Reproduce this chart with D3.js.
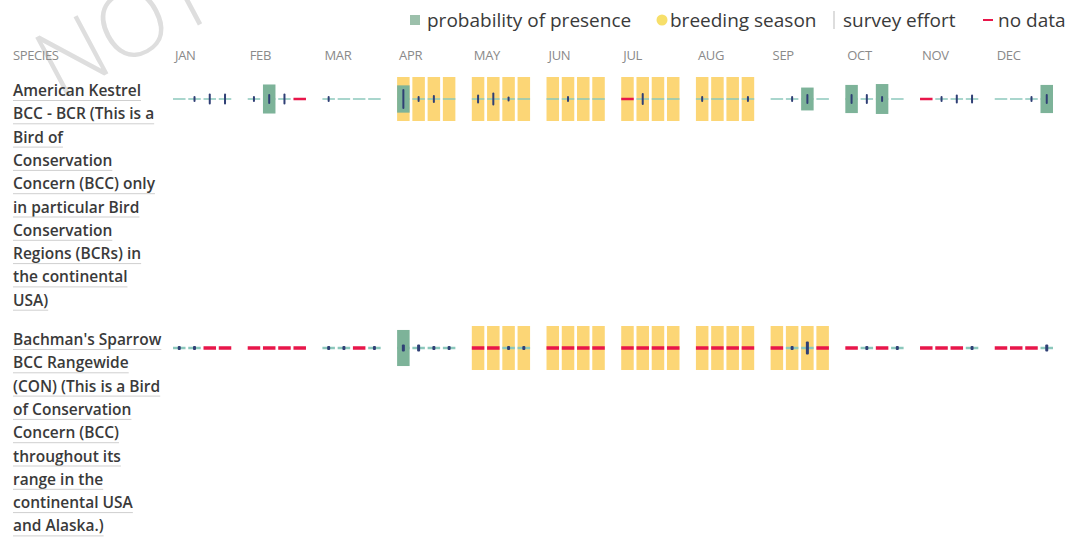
<!DOCTYPE html>
<html>
<head>
<meta charset="utf-8">
<script src="https://cdn.jsdelivr.net/npm/d3@7"></script>
<style>
  html, body { margin: 0; padding: 0; background: #fff; }
  svg { display: block; }
</style>
</head>
<body>
<svg id="chart" width="1067" height="538"></svg>
<script>
// ---------- DATA ----------
const months = ["JAN","FEB","MAR","APR","MAY","JUN","JUL","AUG","SEP","OCT","NOV","DEC"];
const weeks = [0, 1, 2, 3];
const species = ["American Kestrel", "Bachman's Sparrow"];

const kestrelLabel = ["American Kestrel", "BCC - BCR (This is a", "Bird of", "Conservation",
  "Concern (BCC) only", "in particular Bird", "Conservation", "Regions (BCRs) in",
  "the continental", "USA)"];
const sparrowLabel = ["Bachman's Sparrow", "BCC Rangewide", "(CON) (This is a Bird",
  "of Conservation", "Concern (BCC)", "throughout its", "range in the",
  "continental USA", "and Alaska.)"];

const kestrelBreeding = ["APR","MAY","JUN","JUL","AUG"];
const sparrowBreeding = ["MAY","JUN","JUL","AUG","SEP"];

// survey effort per week (null = no data)
const kestrelEffort = [
  0, 0.3, 0.55, 0.55,
  0.3, 0.5, 0.55, null,
  0.3, 0, 0, 0,
  1.0, 0.3, 0.4, 0,
  0.45, 0.65, 0.25, 0,
  0, 0.3, 0, 0,
  null, 0.6, 0, 0,
  0.3, 0, 0, 0.3,
  0, 0.3, 0.5, 0,
  0.5, 0.5, 0.3, 0,
  null, 0.3, 0.45, 0.45,
  0, 0, 0.3, 0.5
];
// probability of presence per week
const kestrelPresence = [
  0, 0, 0, 0,
  0, 0.66, 0, 0,
  0, 0, 0, 0,
  0.62, 0, 0, 0,
  0, 0, 0, 0,
  0, 0, 0, 0,
  0, 0, 0, 0,
  0, 0, 0, 0,
  0, 0, 0.52, 0,
  0.64, 0, 0.68, 0,
  0, 0, 0, 0,
  0, 0, 0, 0.64
];
const sparrowEffort = [
  0.2, 0.2, null, null,
  null, null, null, null,
  0.2, 0.2, null, 0.2,
  0.35, 0.35, 0.2, 0.2,
  null, null, 0.2, 0.2,
  null, null, null, null,
  null, null, null, null,
  null, null, null, null,
  null, 0.2, 0.65, null,
  null, 0.2, null, 0.2,
  null, null, null, 0.2,
  null, null, null, 0.35
];
const sparrowPresence = [
  0, 0, 0, 0,
  0, 0, 0, 0,
  0, 0, 0, 0,
  0.82, 0, 0, 0,
  0, 0, 0, 0,
  0, 0, 0, 0,
  0, 0, 0, 0,
  0, 0, 0, 0,
  0, 0, 0, 0,
  0, 0, 0, 0,
  0, 0, 0, 0,
  0, 0, 0, 0
];

const legendItems = ["probability of presence", "breeding season", "survey effort", "no data"];

// ---------- BUILD ----------
const rows = [
  { name: species[0], label: kestrelLabel, breeding: kestrelBreeding, effort: kestrelEffort, presence: kestrelPresence },
  { name: species[1], label: sparrowLabel, breeding: sparrowBreeding, effort: sparrowEffort, presence: sparrowPresence }
];

const FONT = "'Open Sans', 'Noto Sans', sans-serif";
const COL = { yellow: "#fcd676", green: "#7db399", effort: "#2f3f75", nodata: "#e8164a", dash: "#8cc8bc", text: "#333", header: "#8a8a8a" };

const svg = d3.select("#chart");

// watermark
svg.append("text")
  .attr("transform", "translate(58,100) rotate(-28)")
  .attr("font-family", FONT).attr("font-weight", 300).attr("font-size", 92)
  .attr("fill", "#dedede")
  .text("NOT FOR CONSULTATION");

const x = d3.scaleBand().domain(months).range([173, 1053]).paddingInner(0.22).paddingOuter(0);
const xw = d3.scaleBand().domain(weeks).range([0, x.bandwidth()]).paddingInner(0.18);

const lineH = 23.3, cellH = 44, rowGap = 16, firstTop = 77;
let acc = firstTop;
rows.forEach(r => { r.top = acc; acc += r.label.length * lineH + rowGap; });
const y = d3.scaleOrdinal().domain(species).range(rows.map(r => r.top));
const presH = d3.scaleLinear().domain([0, 1]).range([0, cellH]);
const effH = d3.scaleLinear().domain([0, 1]).range([0, 20]);

// legend
const legend = svg.append("g").attr("font-family", FONT).attr("font-size", 19).attr("fill", "#3a3a3a");
const legendX = [427, 670, 843, 998];
legendItems.forEach((t, i) => {
  legend.append("text").attr("x", legendX[i]).attr("y", 27).text(t);
});
legend.append("rect").attr("x", 410).attr("y", 15).attr("width", 10).attr("height", 10).attr("fill", "#9cc0ab");
legend.append("circle").attr("cx", 662).attr("cy", 20).attr("r", 5.5).attr("fill", "#f7df6a");
legend.append("line").attr("x1", 834).attr("x2", 834).attr("y1", 11).attr("y2", 29).attr("stroke", "#bbb").attr("stroke-width", 1);
legend.append("line").attr("x1", 983).attr("x2", 993).attr("y1", 20).attr("y2", 20).attr("stroke", COL.nodata).attr("stroke-width", 2);

// header
const header = svg.append("g").attr("font-family", FONT).attr("font-size", 13).attr("fill", COL.header);
header.append("text").attr("x", 13).attr("y", 60).attr("letter-spacing", -0.4).text("SPECIES");
header.selectAll("text.m").data(months).join("text").attr("class", "m")
  .attr("x", d => x(d) + 2).attr("y", 60).attr("letter-spacing", -0.3).text(d => d);

// rows
rows.forEach((r, ri) => {
  const top = y(r.name);
  const g = svg.append("g");
  // labels
  const lab = g.append("g").attr("font-family", FONT).attr("font-size", 15.5).attr("font-weight", 600).attr("fill", "#3a3a3a");
  r.label.forEach((t, i) => {
    const by = top + 19 + i * lineH;
    const tx = lab.append("text").attr("x", 13).attr("y", by).text(t);
    const len = tx.node().getComputedTextLength();
    lab.append("line").attr("x1", 13).attr("x2", 13 + len).attr("y1", by + 4.5).attr("y2", by + 4.5)
      .attr("stroke", "#cfcfcf").attr("stroke-width", 1);
  });
  // cells
  const cells = [];
  months.forEach((m, mi) => weeks.forEach(wk => {
    const idx = mi * 4 + wk;
    cells.push({ m, wk, effort: r.effort[idx], presence: r.presence[idx], breeding: r.breeding.includes(m) });
  }));
  const cx = d => x(d.m) + xw(d.wk);
  const bw = xw.bandwidth();
  const mid = top + cellH / 2;
  const thin = ri === 0;

  g.selectAll("rect.breed").data(cells.filter(d => d.breeding)).join("rect").attr("class", "breed")
    .attr("x", cx).attr("y", top).attr("width", bw).attr("height", cellH).attr("fill", COL.yellow);

  g.selectAll("line.dash").data(cells.filter(d => d.effort !== null)).join("line").attr("class", "dash")
    .attr("x1", cx).attr("x2", d => cx(d) + bw).attr("y1", mid).attr("y2", mid)
    .attr("stroke", COL.dash).attr("stroke-width", thin ? 1.5 : 2.5);

  g.selectAll("rect.pres").data(cells.filter(d => d.presence > 0)).join("rect").attr("class", "pres")
    .attr("x", cx).attr("y", d => mid - presH(d.presence) / 2).attr("width", bw).attr("height", d => presH(d.presence))
    .attr("fill", COL.green);

  g.selectAll("rect.nd").data(cells.filter(d => d.effort === null)).join("rect").attr("class", "nd")
    .attr("x", cx).attr("y", mid - (thin ? 1.25 : 1.75)).attr("width", bw).attr("height", thin ? 2.5 : 3.5)
    .attr("fill", COL.nodata);

  g.selectAll("rect.eff").data(cells.filter(d => d.effort)).join("rect").attr("class", "eff")
    .attr("x", d => cx(d) + bw / 2 - (thin ? 1 : 1.5)).attr("y", d => mid - effH(d.effort) / 2)
    .attr("width", thin ? 2 : 3).attr("height", d => effH(d.effort)).attr("rx", 1)
    .attr("fill", COL.effort);
});
</script>
</body>
</html>
